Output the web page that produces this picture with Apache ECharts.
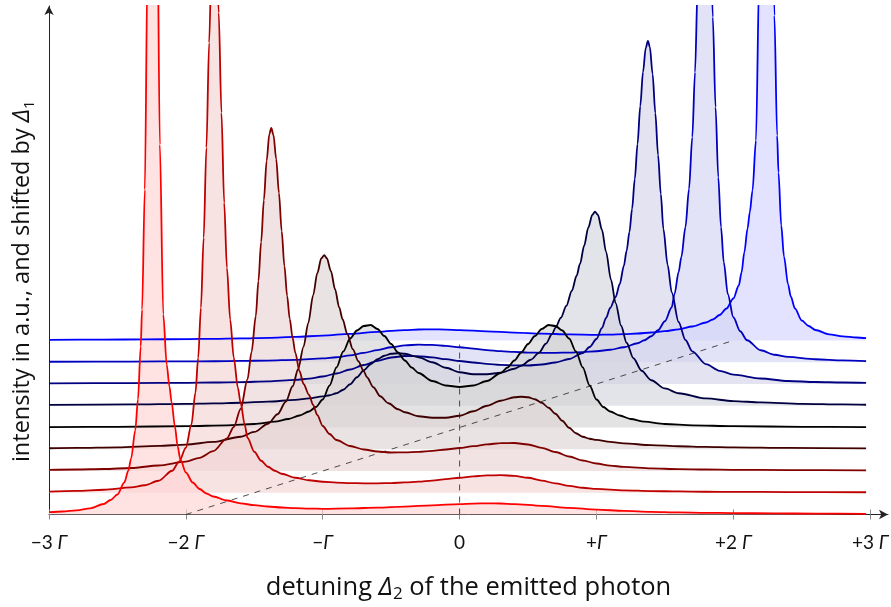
<!DOCTYPE html>
<html>
<head>
<meta charset="utf-8">
<script src="https://cdn.jsdelivr.net/npm/echarts@6/dist/echarts.min.js"></script>
<style>
  html, body { margin: 0; padding: 0; background: #ffffff; }
  #chart { width: 891px; height: 607px; }
</style>
</head>
<body>
<div id="chart"></div>
<script>
// ---------------- data ----------------
const tickValues = [-3, -2, -1, 0, 1, 2, 3];
const tickLabels = ['\u22123 \u0393', '\u22122 \u0393', '\u2212\u0393', '0', '+\u0393', '+2 \u0393', '+3 \u0393'];

// detuning Delta_1 of each spectrum (also sets its vertical shift)
const delta1 = [-2, -1.5, -1, -0.5, 0, 0.5, 1, 1.5, 2];
const shiftPerGamma = 43.5;            // a.u. of vertical shift per Gamma of Delta_1
const dashedVerticalTop = 170;         // a.u., top of the dashed line at Delta_2 = 0

// spectra: [Delta_2 in Gamma, intensity in a.u. above its own baseline]
const spec_m20 = [[-3,2.3],[-2.9,3.0],[-2.8,4.2],[-2.7,6.2],[-2.6,10.5],[-2.55,14.5],[-2.5,20],[-2.45,32],[-2.42,44],[-2.40,56],[-2.37,84],[-2.35,115],[-2.33,168],[-2.32,205],[-2.30,325],[-2.28,550],[-2.26,900],[-2.244,1090],[-2.23,940],[-2.21,620],[-2.19,370],[-2.165,200],[-2.14,150],[-2.12,128],[-2.104,112],[-2.08,88],[-2.06,68],[-2.04,55],[-2.0,42],[-1.95,32],[-1.9,25.5],[-1.85,21],[-1.8,18],[-1.7,14],[-1.6,11.2],[-1.5,9.3],[-1.4,8],[-1.3,7],[-1.2,6.3],[-1.1,5.9],[-1.0,5.7],[-0.8,6.1],[-0.6,6.9],[-0.4,7.9],[-0.2,9.2],[0,10.4],[0.1,10.9],[0.2,11.2],[0.3,11],[0.4,10.4],[0.6,8.7],[0.8,6.7],[1.0,4.9],[1.2,3.6],[1.4,2.7],[1.6,2.1],[1.8,1.7],[2.0,1.4],[2.3,1.1],[2.6,0.9],[2.97,0.7]];
const spec_m15 = [[-3,1.2],[-2.8,1.8],[-2.6,3],[-2.4,5.3],[-2.3,7.5],[-2.2,12],[-2.1,22],[-2.05,31],[-2.0,45],[-1.96,68],[-1.93,100],[-1.91,135],[-1.89,185],[-1.87,255],[-1.85,345],[-1.83,450],[-1.81,548],[-1.793,584],[-1.78,565],[-1.76,480],[-1.74,380],[-1.72,290],[-1.70,225],[-1.676,173],[-1.65,135],[-1.62,105],[-1.6,90],[-1.57,68],[-1.55,55],[-1.5,41],[-1.45,32],[-1.4,26],[-1.35,22],[-1.3,19],[-1.2,15],[-1.1,12.5],[-1.0,11],[-0.9,10.2],[-0.8,9.7],[-0.7,9.4],[-0.6,9.4],[-0.5,9.7],[-0.4,10.3],[-0.3,11.1],[-0.2,12.2],[-0.1,13.6],[0,15],[0.1,16.3],[0.2,17.3],[0.3,17.6],[0.4,16.9],[0.5,15],[0.6,12.2],[0.7,9.3],[0.8,6.8],[0.9,5],[1.0,3.8],[1.2,2.4],[1.4,1.7],[1.6,1.3],[1.8,1.0],[2.0,0.9],[2.4,0.7],[2.97,0.5]];
const spec_m10 = [[-3,1.1],[-2.8,1.5],[-2.6,2],[-2.4,3],[-2.2,5.5],[-2.0,9.4],[-1.9,13.2],[-1.8,19.8],[-1.7,32.6],[-1.65,44],[-1.6,62],[-1.55,91.5],[-1.52,119],[-1.489,155],[-1.47,190],[-1.45,229],[-1.43,271],[-1.41,310],[-1.39,337],[-1.376,343],[-1.36,336],[-1.34,312],[-1.32,278],[-1.30,240],[-1.28,205],[-1.26,175],[-1.241,152],[-1.22,133],[-1.2,118],[-1.17,100],[-1.14,87],[-1.1,76],[-1.07,66],[-1.04,56],[-1.0,45],[-0.95,37],[-0.9,31],[-0.8,25],[-0.7,21.5],[-0.6,19.5],[-0.5,18.5],[-0.4,18.6],[-0.3,19.2],[-0.2,20.2],[-0.1,21.5],[0,23],[0.1,24.8],[0.2,26.6],[0.3,27.9],[0.4,28],[0.5,26.5],[0.6,23.2],[0.7,19],[0.8,14.5],[0.9,10.5],[1.0,7.5],[1.1,5.4],[1.2,4.1],[1.4,2.6],[1.6,1.9],[1.8,1.5],[2.0,1.2],[2.4,0.9],[2.97,0.6]];
const spec_m05 = [[-3,1.0],[-2.8,1.3],[-2.5,1.9],[-2.2,3.3],[-2.0,4.7],[-1.8,7.3],[-1.6,12.5],[-1.5,17.3],[-1.4,25.5],[-1.33,35],[-1.27,47.5],[-1.22,63],[-1.18,80],[-1.14,102.6],[-1.106,126],[-1.07,154],[-1.04,176],[-1.01,191],[-0.989,194],[-0.97,191],[-0.94,178],[-0.91,160],[-0.88,142],[-0.855,130],[-0.82,115],[-0.78,100],[-0.74,88],[-0.7,78],[-0.677,72],[-0.63,62],[-0.58,53],[-0.52,46],[-0.45,40],[-0.4,37],[-0.3,33],[-0.2,31.5],[-0.1,31.5],[0,33.5],[0.1,38],[0.2,43.5],[0.3,48.5],[0.4,52],[0.45,52.5],[0.5,52],[0.55,50],[0.6,46.5],[0.65,41.5],[0.7,35.5],[0.75,28.5],[0.8,21.5],[0.85,16],[0.9,12.5],[0.95,10.5],[1.0,9.3],[1.1,7.3],[1.2,5.9],[1.4,4.1],[1.6,3.0],[1.8,2.4],[2.0,1.9],[2.4,1.3],[2.97,0.9]];
const spec_00 = [[-3,0.45],[-2.5,0.7],[-2.0,1.3],[-1.7,2.2],[-1.5,3.5],[-1.35,5.8],[-1.25,8.5],[-1.17,12],[-1.1,16],[-1.05,20.5],[-1.0,28],[-0.95,42],[-0.9,60],[-0.85,76],[-0.8,89],[-0.75,97],[-0.7,101.5],[-0.65,102.5],[-0.6,98.5],[-0.55,91.5],[-0.5,83.5],[-0.45,75],[-0.4,67],[-0.35,60],[-0.3,54.5],[-0.2,46.5],[-0.1,42],[0,40.5],[0.1,42],[0.2,46.5],[0.3,54.5],[0.35,60],[0.4,67],[0.45,75],[0.5,83.5],[0.55,91.5],[0.6,98.5],[0.65,102.5],[0.7,101.5],[0.75,97],[0.8,89],[0.85,76],[0.9,60],[0.95,42],[1.0,28],[1.05,20.5],[1.1,16],[1.17,12],[1.25,8.5],[1.35,5.8],[1.5,3.5],[1.7,2.2],[2.0,1.3],[2.5,0.7],[2.97,0.45]];
const spec_p05 = [[-3,0.9],[-2.4,1.3],[-2.0,1.9],[-1.8,2.4],[-1.6,3.0],[-1.4,4.1],[-1.2,5.9],[-1.1,7.3],[-1.0,9.3],[-0.95,10.5],[-0.9,12.5],[-0.85,16],[-0.8,21.5],[-0.75,28.5],[-0.7,35.5],[-0.65,41.5],[-0.6,46.5],[-0.55,50],[-0.5,52],[-0.45,52.5],[-0.4,52],[-0.3,48.5],[-0.2,43.5],[-0.1,38],[0,33.5],[0.1,31.5],[0.2,31.5],[0.3,33],[0.4,37],[0.45,40],[0.52,46],[0.58,53],[0.63,62],[0.677,72],[0.7,78],[0.74,88],[0.78,100],[0.82,115],[0.855,130],[0.88,142],[0.91,160],[0.94,178],[0.97,191],[0.989,194],[1.01,191],[1.04,176],[1.07,154],[1.106,126],[1.14,102.6],[1.18,80],[1.22,63],[1.27,47.5],[1.33,35],[1.4,25.5],[1.5,17.3],[1.6,12.5],[1.8,7.3],[2.0,4.7],[2.2,3.3],[2.5,1.9],[2.8,1.3],[2.97,1.0]];
const spec_p10 = [[-3,0.6],[-2.4,0.9],[-2.0,1.2],[-1.8,1.5],[-1.6,1.9],[-1.4,2.6],[-1.2,4.1],[-1.1,5.4],[-1.0,7.5],[-0.9,10.5],[-0.8,14.5],[-0.7,19],[-0.6,23.2],[-0.5,26.5],[-0.4,28],[-0.3,27.9],[-0.2,26.6],[-0.1,24.8],[0,23],[0.1,21.5],[0.2,20.2],[0.3,19.2],[0.4,18.6],[0.5,18.5],[0.6,19.5],[0.7,21.5],[0.8,25],[0.9,31],[0.95,37],[1.0,45],[1.04,56],[1.07,66],[1.1,76],[1.14,87],[1.17,100],[1.2,118],[1.22,133],[1.241,152],[1.26,175],[1.28,205],[1.30,240],[1.32,278],[1.34,312],[1.36,336],[1.376,343],[1.39,337],[1.41,310],[1.43,271],[1.45,229],[1.47,190],[1.489,155],[1.52,119],[1.55,91.5],[1.6,62],[1.65,44],[1.7,32.6],[1.8,19.8],[1.9,13.2],[2.0,9.4],[2.2,5.5],[2.4,3],[2.6,2],[2.8,1.5],[2.97,1.1]];
const spec_p15 = [[-3,0.5],[-2.4,0.7],[-2.0,0.9],[-1.8,1.0],[-1.6,1.3],[-1.4,1.7],[-1.2,2.4],[-1.0,3.8],[-0.9,5],[-0.8,6.8],[-0.7,9.3],[-0.6,12.2],[-0.5,15],[-0.4,16.9],[-0.3,17.6],[-0.2,17.3],[-0.1,16.3],[0,15],[0.1,13.6],[0.2,12.2],[0.3,11.1],[0.4,10.3],[0.5,9.7],[0.6,9.4],[0.7,9.4],[0.8,9.7],[0.9,10.2],[1.0,11],[1.1,12.5],[1.2,15],[1.3,19],[1.35,22],[1.4,26],[1.45,32],[1.5,41],[1.55,55],[1.57,68],[1.6,90],[1.62,105],[1.65,135],[1.676,173],[1.70,225],[1.72,290],[1.74,380],[1.76,480],[1.78,565],[1.793,584],[1.81,548],[1.83,450],[1.85,345],[1.87,255],[1.89,185],[1.91,135],[1.93,100],[1.96,68],[2.0,45],[2.05,31],[2.1,22],[2.2,12],[2.3,7.5],[2.4,5.3],[2.6,3],[2.8,1.8],[2.97,1.2]];
const spec_p20 = [[-3,0.7],[-2.6,0.9],[-2.3,1.1],[-2.0,1.4],[-1.8,1.7],[-1.6,2.1],[-1.4,2.7],[-1.2,3.6],[-1.0,4.9],[-0.8,6.7],[-0.6,8.7],[-0.4,10.4],[-0.3,11],[-0.2,11.2],[-0.1,10.9],[0,10.4],[0.2,9.2],[0.4,7.9],[0.6,6.9],[0.8,6.1],[1.0,5.7],[1.1,5.9],[1.2,6.3],[1.3,7],[1.4,8],[1.5,9.3],[1.6,11.2],[1.7,14],[1.8,18],[1.85,21],[1.9,25.5],[1.95,32],[2.0,42],[2.04,55],[2.06,68],[2.08,88],[2.104,112],[2.12,128],[2.14,150],[2.165,200],[2.19,370],[2.21,620],[2.23,940],[2.244,1090],[2.26,900],[2.28,550],[2.30,325],[2.32,205],[2.33,168],[2.35,115],[2.37,84],[2.40,56],[2.42,44],[2.45,32],[2.5,20],[2.55,14.5],[2.6,10.5],[2.7,6.2],[2.8,4.2],[2.9,3.0],[2.97,2.3]];

const spectra = [spec_m20, spec_m15, spec_m10, spec_m05, spec_00, spec_p05, spec_p10, spec_p15, spec_p20];

// ---------------- styles ----------------
const lineColors = ['#ff0000', '#bf0000', '#800000', '#400000', '#000000', '#000040', '#000080', '#0000bf', '#0000ff'];
const FONT = '"Open Sans", Lato, "Noto Sans", sans-serif';
const TICKFONT = 'Lato, "Open Sans", sans-serif';

function tint(hex, f) {
  const r = parseInt(hex.slice(1, 3), 16), g = parseInt(hex.slice(3, 5), 16), b = parseInt(hex.slice(5, 7), 16);
  const m = c => Math.round(255 * (1 - f) + c * f);
  return 'rgb(' + m(r) + ',' + m(g) + ',' + m(b) + ')';
}
const baseOf = d => shiftPerGamma * (d + 2);

// ---------------- series ----------------
const series = [];
// dashed guide lines (drawn first, under the fills)
series.push({
  type: 'line', silent: true, symbol: 'none', animation: false,
  data: [[delta1[0], baseOf(delta1[0])], [delta1[delta1.length - 1], baseOf(delta1[delta1.length - 1])]],
  lineStyle: { color: '#222', width: 0.8, type: [6, 6] }
});
series.push({
  type: 'line', silent: true, symbol: 'none', animation: false,
  data: [[0, 0], [0, dashedVerticalTop]],
  lineStyle: { color: '#222', width: 0.8, type: [6, 6] }
});
// spectra: top (blue) first, bottom (red) last so lower fills lie on top
for (let k = spectra.length - 1; k >= 0; k--) {
  const base = baseOf(delta1[k]);
  series.push({
    type: 'line', silent: true, symbol: 'none', animation: false,
    smooth: 0.3, smoothMonotone: 'x', clip: true,
    data: spectra[k].map(p => [p[0], base + p[1]]),
    lineStyle: { color: lineColors[k], width: 1.8 },
    areaStyle: { color: tint(lineColors[k], 0.17), opacity: 0.65, origin: base }
  });
}

const labelFormatter = function (v) {
  const i = tickValues.indexOf(Math.round(v * 1000) / 1000);
  if (i < 0) return '';
  return tickLabels[i].replace('\u0393', '{g|\u0393}');
};

function nameRich(size) {
  return {
    t: { fontFamily: FONT, fontSize: size, color: '#111', lineHeight: 30 },
    d: { fontFamily: FONT, fontSize: size, fontStyle: 'italic', color: '#111', lineHeight: 30 },
    s: { fontFamily: FONT, fontSize: Math.round(size * 0.65), color: '#111', verticalAlign: 'bottom', lineHeight: 22 }
  };
}

const option = {
  backgroundColor: '#ffffff',
  animation: false,
  grid: { left: 49, right: 3, top: 6, bottom: 92.5, containLabel: false, outerBoundsMode: 'none' },
  xAxis: [
    {
      type: 'value', min: -3, max: 3.13,
      splitLine: { show: false },
      axisLine: { show: true, onZero: false, lineStyle: { color: '#222', width: 1 }, symbol: ['none', 'arrow'], symbolSize: [7, 9] },
      axisTick: { show: true, customValues: tickValues, length: 5, lineStyle: { color: '#888', width: 1 } },
      axisLabel: {
        customValues: tickValues, formatter: labelFormatter, margin: 19,
        fontFamily: TICKFONT, fontSize: 19, color: '#111',
        rich: { g: { fontFamily: TICKFONT, fontSize: 19, fontStyle: 'italic', color: '#111' } }
      },
      name: '{t|detuning }{d|\u0394}{s|2}{t| of the emitted photon}',
      nameLocation: 'middle', nameGap: 58,
      nameTextStyle: { fontFamily: FONT, fontSize: 25.5, color: '#111', rich: nameRich(25.5) }
    },
    {
      type: 'value', min: -3, max: 3.13, position: 'bottom',
      splitLine: { show: false },
      axisLine: { show: false },
      axisTick: { show: true, inside: true, customValues: tickValues, length: 5, lineStyle: { color: '#888', width: 1 } },
      axisLabel: { show: false }
    }
  ],
  yAxis: {
    type: 'value', min: 0, max: 508.5,
    splitLine: { show: false },
    axisLine: { show: true, onZero: false, lineStyle: { color: '#222', width: 1 }, symbol: ['none', 'arrow'], symbolSize: [7, 9] },
    axisTick: { show: false },
    axisLabel: { show: false },
    name: '{t|intensity in a.u., and shifted by }{d|\u0394}{s|1}',
    nameLocation: 'middle', nameRotate: 90, nameGap: 12,
    nameTextStyle: { fontFamily: FONT, fontSize: 23.5, color: '#111', padding: [0, 42, 0, 0], rich: nameRich(23.5) }
  },
  series: series
};

const chart = echarts.init(document.getElementById('chart'), null, { renderer: 'canvas' });
chart.setOption(option);
</script>
</body>
</html>
